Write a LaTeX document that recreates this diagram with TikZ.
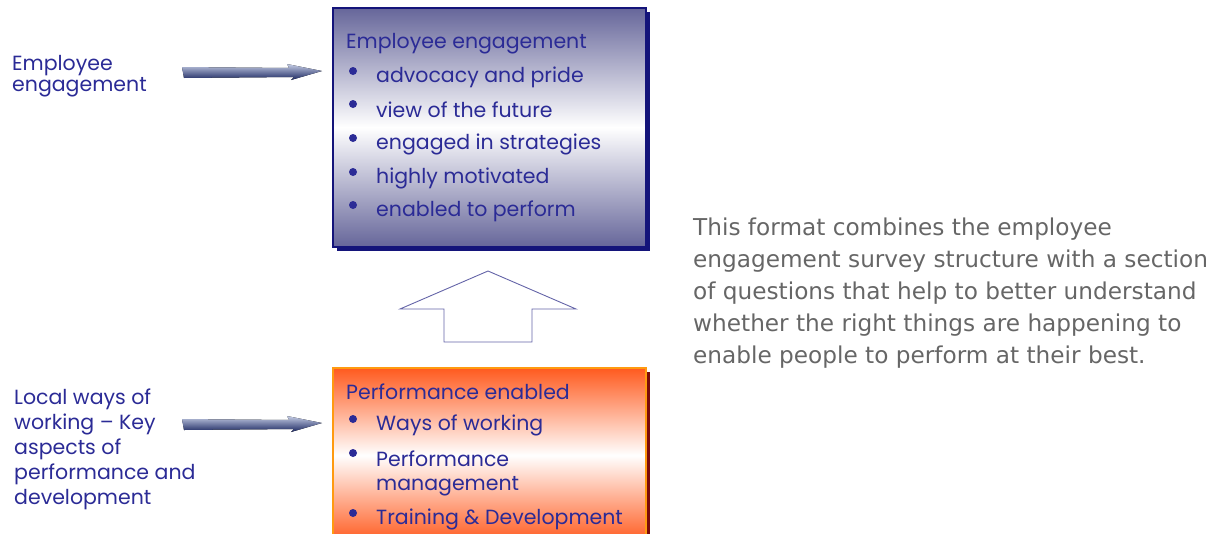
\documentclass[tikz,border=0pt]{standalone}
\usepackage{fontspec}
\setmainfont{Poppins}
\newfontfamily\rfont{DejaVu Sans}
\definecolor{navy}{HTML}{14147A}
\definecolor{txtblue}{HTML}{2B2B96}
\definecolor{slate}{HTML}{66669A}
\definecolor{orng}{HTML}{FF5A1E}
\definecolor{orbord}{HTML}{FF9A10}
\definecolor{dred}{HTML}{7A0A0A}
\definecolor{grytxt}{HTML}{666666}
\definecolor{arrline}{HTML}{6464A8}
\definecolor{arrlight}{HTML}{C4CCE4}
\definecolor{arrdark}{HTML}{1A2660}
\tikzset{
  lbl/.style={anchor=north west, align=left, text=txtblue, font=\fontsize{20.5}{25}\selectfont, inner sep=0pt},
  ttl/.style={anchor=west, text=txtblue, font=\fontsize{20.5}{25}\selectfont, inner sep=0pt},
  bul/.style={circle, fill=txtblue, inner sep=0pt, minimum size=8pt},
  side/.style={anchor=north west, text=grytxt, align=left, font=\rfont\fontsize{23.2}{31.9}\selectfont, inner sep=0pt},
  flatarrow/.style={top color=arrlight, bottom color=arrdark, draw=none},
}
\begin{document}
\begin{tikzpicture}[x=1pt,y=-1pt]
\useasboundingbox (0,0) rectangle (1220,533);
% top box
\fill[navy] (337,12) rectangle (650,251);
\node[draw=navy, line width=1.6pt, top color=slate, bottom color=slate, middle color=white, minimum width=313pt, minimum height=239pt, inner sep=0pt, anchor=north west] (eng) at (332,7) {};
\node[ttl] (t1) at (346,44) {Employee engagement};
\foreach \y/\t [count=\i] in {74/advocacy and pride,107/view of the future,141/engaged in strategies,175/highly motivated,208/enabled to perform}{
  \node[bul] (b\i) at (353,\y-3) {};
  \node[ttl] (e\i) at (376,\y+3) {\t};
}
% bottom box
\fill[dred] (337,372) rectangle (650,540);
\node[draw=orbord, line width=1.6pt, top color=orng, bottom color=orng, middle color=white, minimum width=313pt, minimum height=175pt, inner sep=0pt, anchor=north west] (perf) at (332,367) {};
\node[ttl] (t2) at (346,392) {Performance enabled};
\node[bul] (c1) at (353,419) {};
\node[ttl] (p1) at (376,425) {Ways of working};
\node[bul] (c2) at (353,453) {};
\node[ttl] (p2) at (376,459) {Performance};
\node[ttl] (p3) at (376,486) {management};
\node[bul] (c3) at (353,513) {};
\node[ttl] (p4) at (376,519) {Training \& Development};
% block arrow
\draw[arrline, line width=0.9pt, fill=white] (488,271) -- (576,309) -- (532,309) -- (532,342) -- (444,342) -- (444,309) -- (400,309) -- cycle;
% left labels
\node[lbl] (l1) at (12,55) {Employee\\[-4pt]engagement};
\node[lbl] (l2) at (14,389) {Local ways of\\working – Key\\aspects of\\performance and\\development};
% left arrows
\fill[flatarrow] (182,67) -- (289,68) -- (287,64) -- (322,71) -- (291,80) -- (294,77) -- (184,78) -- cycle;
\fill[flatarrow] (182,419) -- (289,420) -- (287,416) -- (322,423) -- (291,432) -- (294,429) -- (184,430) -- cycle;
% side text
\node[side] (s) at (693,218) {This format combines the employee\\engagement survey structure with a section\\of questions that help to better understand\\whether the right things are happening to\\enable people to perform at their best.};
\end{tikzpicture}
\end{document}
